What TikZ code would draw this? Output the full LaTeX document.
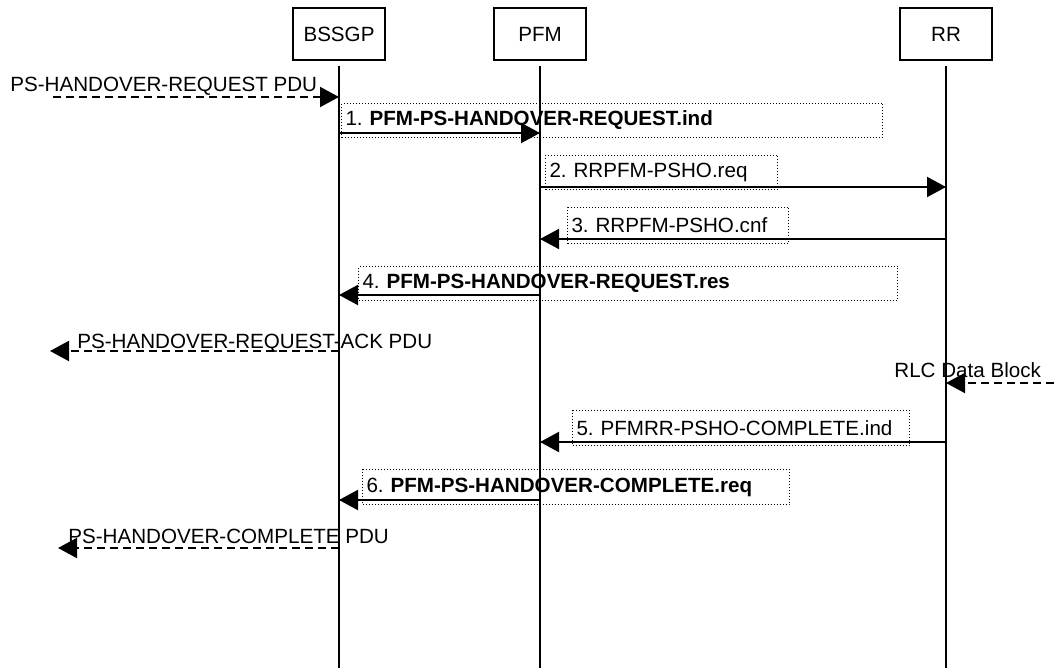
\documentclass[tikz,border=0pt]{standalone}
\usepackage{fontspec}
\setmainfont{Liberation Sans}
\usepackage{tikz}
\usetikzlibrary{arrows.meta}
\newcommand{\msgfont}{\fontsize{10.3}{12}\selectfont\frenchspacing}
\tikzset{
  head/.style ={draw, line width=1pt, minimum width=46pt, minimum height=26pt,
                inner sep=0pt, font=\msgfont},
  life/.style ={line width=1pt},
  msg/.style  ={-{Triangle[length=9.5pt,width=10pt]}, line width=1pt},
  ext/.style  ={msg, dash pattern=on 4pt off 2.5pt},
  lbl/.style  ={draw, line width=0.5pt, dash pattern=on 0.5pt off 1pt,
                anchor=north west, inner sep=2pt, align=left, font=\msgfont},
  txt/.style  ={inner sep=0pt, anchor=base west, font=\msgfont}
}

\begin{document}
\begin{tikzpicture}[x=0.5pt, y=-0.5pt]
\useasboundingbox (0,0) rectangle (1054,668);

% entities
\node[head] (bssgp) at (339,34) {BSSGP};
\node[head] (pfm)   at (540,34) {PFM};
\node[head] (rr)    at (946,34) {RR};
\coordinate (bot) at (0,668);
\foreach \n in {bssgp,pfm,rr}
  \draw[life] ([yshift=-2.5pt]\n.south) -- (\n |- bot);

% heights of the messages
\coordinate (m1) at (0,133);
\coordinate (m2) at (0,187);
\coordinate (m3) at (0,239);
\coordinate (m4) at (0,295);
\coordinate (m5) at (0,442);
\coordinate (m6) at (0,500);

% labels
\node[lbl, text width=266.5pt, minimum height=17pt] (l1) at (341,103)
  {1. \textbf{PFM-PS-HANDOVER-REQUEST.ind}};
\node[lbl, text width=112pt, minimum height=17pt] (l2) at (545,155)
  {2. RRPFM-PSHO.req};
\node[lbl, text width=106.5pt, minimum height=18pt] (l3) at (567,207)
  {3. RRPFM-PSHO.cnf};
\node[lbl, text width=265.5pt, minimum height=17pt] (l4) at (358,266)
  {4. \textbf{PFM-PS-HANDOVER-REQUEST.res}};
\node[lbl, text width=164.5pt, minimum height=17.5pt] (l5) at (572,410)
  {5. PFMRR-PSHO-COMPLETE.ind};
\node[lbl, text width=209.5pt, minimum height=17.5pt] (l6) at (362,469)
  {6. \textbf{PFM-PS-HANDOVER-COMPLETE.req}};

% internal primitives
\draw[msg] (bssgp |- m1) -- (pfm |- m1);
\draw[msg] (pfm |- m2) -- (rr |- m2);
\draw[msg] (rr |- m3) -- (pfm |- m3);
\draw[msg] (pfm |- m4) -- (bssgp |- m4);
\draw[msg] (rr |- m5) -- (pfm |- m5);
\draw[msg] (pfm |- m6) -- (bssgp |- m6);

% external messages
\node[txt] (t0) at (10,92) {PS-HANDOVER-REQUEST PDU};
\coordinate (in0) at (53,97);
\draw[ext] (in0) -- (bssgp |- in0);

\node[txt] (t1) at (77,348) {PS-HANDOVER-REQUEST-ACK PDU};
\coordinate (out1) at (50,351);
\draw[ext] (bssgp |- out1) -- (out1);

\node[txt] (t2) at (894,377) {RLC Data Block};
\coordinate (in2) at (1054,383);
\draw[ext] (in2) -- (rr |- in2);

\node[txt] (t3) at (68,543) {PS-HANDOVER-COMPLETE PDU};
\coordinate (out3) at (58,548);
\draw[ext] (bssgp |- out3) -- (out3);
\end{tikzpicture}
\end{document}
